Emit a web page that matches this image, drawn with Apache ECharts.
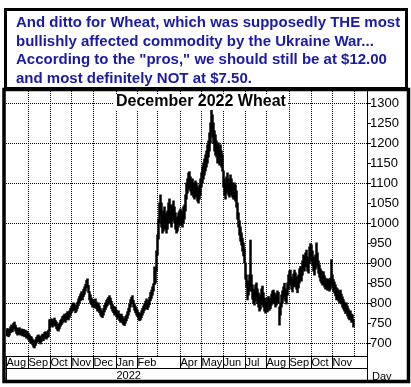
<!DOCTYPE html>
<html><head><meta charset="utf-8">
<script src="https://cdn.jsdelivr.net/npm/echarts@6/dist/echarts.min.js"></script>
<style>html,body{margin:0;padding:0;background:#fff}#c{width:411px;height:387px}</style>
</head><body><div id="c"></div>
<script>
// ---- data ----
const startDate = [2021, 7, 2]; // first weekday slot: 2 Aug 2021
const totalSlots = 361;          // weekday slots on the x axis
const monthNames = ['Jan','Feb','Mar','Apr','May','Jun','Jul','Aug','Sep','Oct','Nov','Dec'];
const hiddenMonthLabels = ['2022-03'];
const yearLabel = '2022';
const chartTitle = 'December 2022 Wheat';
const headerLines = [
  'And ditto for Wheat, which was supposedly THE most',
  'bullishly affected commodity by the Ukraine War...',
  'According to the "pros," we should still be at $12.00',
  'and most definitely NOT at $7.50.'
];
const yTickLabels = [700,750,800,850,900,950,1000,1050,1100,1150,1200,1250,1300];
const yGridValues = [700,800,900,1000,1100,1200,1300];

const lows = [
  718,722,716,720,726,730,728,735,738,730,724,720,722,726,720,722,718,720,716,718,712,714,
  708,705,700,702,696,690,688,694,700,704,708,702,698,704,710,706,712,716,710,714,716,730,
  742,746,740,744,748,742,736,732,730,736,742,746,750,754,756,752,758,762,758,764,770,
  776,780,786,782,776,780,786,794,800,806,812,808,816,822,830,838,842,826,808,800,796,790,
  792,788,794,786,780,784,776,770,766,764,770,778,784,790,794,800,802,796,786,780,776,770,774,
  766,760,764,756,752,758,750,746,744,750,756,762,770,778,790,798,800,790,782,776,770,
  766,760,756,758,764,770,776,782,786,792,784,790,796,806,812,820,830,846,850,880,
  920,960,1000,1020,990,975,980,990,985,975,985,1000,1010,1000,990,1005,1015,1000,985,975,980,990,995,
  1000,995,990,1000,1010,1030,1060,1075,1085,1090,1080,1070,1075,1065,1060,1070,1065,1055,1050,1060,1070,
  1090,1100,1110,1120,1130,1140,1150,1165,1180,1200,1230,1215,1200,1180,1170,1165,1150,1160,1145,1155,1140,1130,
  1090,1070,1060,1075,1085,1070,1065,1080,1070,1065,1060,1060,1055,1040,1010,990,970,955,945,930,918,900,
  860,840,808,820,830,840,830,810,800,795,805,815,800,790,780,785,795,805,790,780,775,
  785,778,790,782,786,795,800,805,798,790,795,805,800,745,770,790,800,810,815,805,798,820,835,
  845,850,835,828,840,850,842,835,826,838,850,860,855,870,885,880,890,895,880,875,900,910,
  905,895,880,870,885,905,890,875,865,855,850,845,848,840,835,838,832,836,830,835,850,
  840,830,825,818,808,812,805,800,808,798,790,785,780,774,778,768,762,758,764,752,755,740
];
const highs = [
  732,736,730,734,740,745,742,749,752,744,738,734,736,738,733,735,731,734,730,732,728,729,
  724,720,716,715,710,706,702,708,714,718,720,716,712,718,722,720,726,728,724,728,732,758,
  758,760,754,758,762,756,752,746,744,750,756,760,766,768,772,766,774,778,774,780,786,
  792,796,800,798,790,794,802,810,816,822,828,824,834,840,846,856,860,844,828,820,812,808,
  808,804,810,802,796,800,792,786,780,778,786,794,800,806,810,814,818,812,804,796,792,786,790,
  782,776,780,772,768,772,766,762,758,766,770,778,786,796,808,814,818,806,798,792,786,
  782,776,772,774,780,786,792,798,804,810,800,806,814,826,832,840,848,890,880,930,
  970,1010,1050,1070,1050,1020,1030,1040,1025,1015,1030,1050,1060,1045,1035,1045,1055,1040,1025,1010,1015,1025,1030,
  1035,1030,1025,1040,1045,1070,1100,1110,1125,1128,1115,1105,1110,1100,1095,1105,1100,1090,1085,1095,1110,
  1125,1140,1150,1160,1170,1180,1195,1205,1225,1250,1284,1270,1250,1230,1220,1205,1190,1200,1185,1195,1180,1170,
  1130,1110,1100,1115,1125,1110,1100,1120,1110,1100,1095,1100,1095,1080,1050,1025,1005,990,975,962,950,935,
  900,870,855,850,870,957,870,845,835,830,845,850,835,825,815,820,835,842,825,812,805,
  812,805,816,808,812,822,830,832,825,818,822,830,826,790,800,820,830,840,849,835,828,850,870,
  880,882,865,860,872,882,875,865,858,870,885,891,885,905,920,915,925,932,915,905,940,948,
  945,930,915,905,920,950,925,905,895,885,880,875,878,868,862,860,858,860,855,862,908,
  870,858,852,845,838,835,830,826,832,822,815,808,802,798,800,792,785,778,780,772,770,758
];

// ---- weekday category axis ----
const categories = [];
{
  const d = new Date(Date.UTC(startDate[0], startDate[1], startDate[2]));
  while (categories.length < totalSlots) {
    const wd = d.getUTCDay();
    if (wd !== 0 && wd !== 6) categories.push(d.toISOString().slice(0, 10));
    d.setUTCDate(d.getUTCDate() + 1);
  }
}
const ym = i => categories[i].slice(0, 7);
const isMonthStart = i => i === 0 || ym(i) !== ym(i - 1);
const isYearStart = i => i > 0 && categories[i].slice(0, 4) !== categories[i - 1].slice(0, 4);
const showMonth = i => i < highs.length && isMonthStart(i) && hiddenMonthLabels.indexOf(ym(i)) < 0;

const FONT = '"Liberation Sans", Arial, sans-serif';
const yMin = 667.5, yMax = 1330;

const chart = echarts.init(document.getElementById('c'), null, { renderer: 'canvas' });
chart.setOption({
  animation: false,
  backgroundColor: '#fff',
  title: {
    text: chartTitle, left: 114, top: 94, padding: [0, 2],
    backgroundColor: '#fff',
    textStyle: { fontFamily: FONT, fontSize: 16, fontWeight: 'bold', color: '#000' }
  },
  grid: { left: 6, right: 44, top: 91, bottom: 31, containLabel: false },
  xAxis: [{
    type: 'category', data: categories, boundaryGap: true, position: 'bottom',
    axisLine: { show: true, lineStyle: { color: '#000', width: 1 } },
    axisTick: { show: true, interval: i => showMonth(i), length: 12, lineStyle: { color: '#000', width: 1 } },
    axisLabel: {
      interval: i => showMonth(i), formatter: v => monthNames[+v.slice(5, 7) - 1],
      align: 'left', verticalAlign: 'top', margin: 1, padding: [0, 0, 0, 0],
      fontFamily: FONT, fontSize: 11, color: '#000'
    },
    splitLine: { show: true, interval: i => i > 0 && isMonthStart(i),
                 lineStyle: { color: '#000', width: 1, type: 'dotted', opacity: 1 } }
  }, {
    type: 'category', data: categories, boundaryGap: true, position: 'bottom', offset: 12,
    axisLine: { show: true, lineStyle: { color: '#000', width: 1 } },
    axisTick: { show: true, interval: i => isYearStart(i), length: 12, lineStyle: { color: '#000', width: 1 } },
    axisLabel: {
      interval: i => isYearStart(i), formatter: () => yearLabel,
      align: 'left', verticalAlign: 'top', margin: 2,
      fontFamily: FONT, fontSize: 11, color: '#000'
    },
    splitLine: { show: false },
    name: 'Day', nameLocation: 'end', nameGap: 5,
    nameTextStyle: { fontFamily: FONT, fontSize: 11, color: '#000', verticalAlign: 'top', padding: [3, 0, 0, 0] }
  }],
  yAxis: [{
    type: 'value', position: 'right', min: yMin, max: yMax,
    axisLine: { show: true, lineStyle: { color: '#000', width: 1 } },
    axisTick: { show: true, length: 4, customValues: yTickLabels, lineStyle: { color: '#000' } },
    axisLabel: { customValues: yTickLabels, formatter: v => String(v), margin: 3,
                 fontFamily: FONT, fontSize: 13, color: '#000' },
    splitLine: { show: false }
  }, {
    type: 'value', position: 'right', min: yMin, max: yMax,
    axisLine: { show: false },
    axisTick: { show: false, customValues: yGridValues },
    axisLabel: { show: false, customValues: yGridValues },
    splitLine: { show: true, lineStyle: { color: '#000', width: 1, type: 'dotted', opacity: 1 } }
  }],
  series: [{
    type: 'custom', xAxisIndex: 0, yAxisIndex: 0, clip: true,
    data: highs.map((h, i) => [i, lows[i], h]),
    encode: { x: 0, y: [1, 2] },
    renderItem: (params, api) => {
      const i = api.value(0);
      const lo = api.coord([i, api.value(1)]);
      const hi = api.coord([i, api.value(2)]);
      return { type: 'line', shape: { x1: lo[0], y1: lo[1] + 0.5, x2: hi[0], y2: hi[1] - 0.5 },
               style: { stroke: '#000', lineWidth: 2.5 } };
    }
  }],
  graphic: [
    { type: 'rect', z: 50, silent: true, shape: { x: 5.5, y: 9.5, width: 401, height: 79 },
      style: { fill: null, stroke: '#000', lineWidth: 3 } },
    { type: 'text', z: 50, left: 16, top: 14, silent: true,
      style: { text: headerLines.join('\n'), fill: '#1a1aa6', font: 'bold 15px ' + FONT, lineHeight: 18.5 } },
    { type: 'rect', z: 50, silent: true, shape: { x: 4, y: 89.5, width: 404.5, height: 292 },
      style: { fill: null, stroke: '#000', lineWidth: 3.5 } },
    { type: 'line', z: 50, silent: true, shape: { x1: 367.5, y1: 356, x2: 367.5, y2: 381 },
      style: { stroke: '#000', lineWidth: 1 } }
  ]
});
</script>
</body></html>
